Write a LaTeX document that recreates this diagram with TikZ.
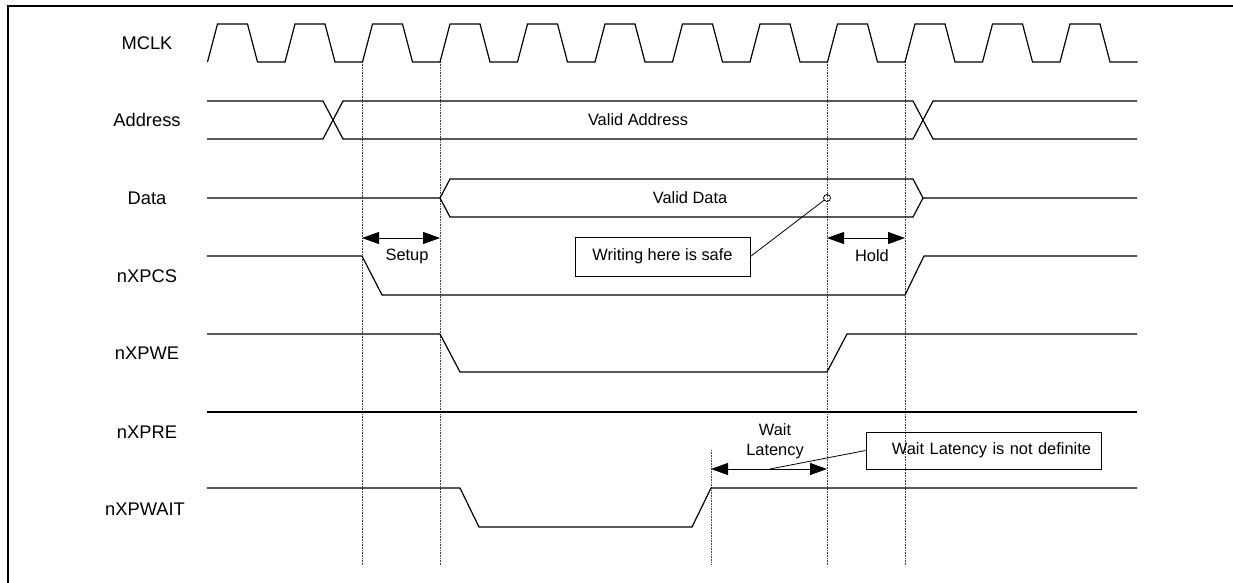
\documentclass[tikz,border=0pt]{standalone}
\usepackage{fontspec}
\setmainfont{Liberation Sans}
\usetikzlibrary{arrows.meta}
\begin{document}
\begin{tikzpicture}[x=1pt,y=-1pt,
  sig/.style={line width=1.2pt, line join=miter},
  guide/.style={line width=0.9pt, black!75, dash pattern=on 0.9pt off 0.7pt},
  lab/.style={font=\fontsize{18.3}{20}\selectfont, inner sep=0pt},
  ann/.style={font=\fontsize{16.4}{20}\selectfont, inner sep=0pt, align=center},
  dimarrow/.style={line width=1pt, {Triangle[length=17pt,width=12pt]}-{Triangle[length=17pt,width=12pt]}},
  callout/.style={draw, line width=0.9pt, font=\fontsize{16.4}{20}\selectfont, inner sep=0pt},
  leader/.style={line width=0.8pt}]
\useasboundingbox (0,0) rectangle (1233,583);

% frame
\draw[line width=2.6pt, line join=miter] (8,595) -- (8,6) -- (1245,6);

% guide lines
\foreach \n/\x in {ga/362, gb/440, gc/827, gd/905} {
  \coordinate (\n t) at (\x,62);
  \coordinate (\n b) at (\x,565);
  \draw[guide] (\n t) -- (\n b);
}
\coordinate (get) at (711,450);
\coordinate (geb) at (711,565);
\draw[guide] (get) -- (geb);

% signal labels
\node[lab] (lmclk) at (147,43) {MCLK};
\node[lab] (laddr) at (147,120) {Address};
\node[lab] (ldata) at (147,198) {Data};
\node[lab] (lcs)   at (147,276) {nXPCS};
\node[lab] (lwe)   at (147,353) {nXPWE};
\node[lab] (lre)   at (147,432) {nXPRE};
\node[lab] (lwait) at (145,509) {nXPWAIT};

% MCLK
\draw[sig] (207.5,62) \foreach \k in {0,...,11} { -- ++(10,-38) -- ++(30,0) -- ++(10,38) -- ++(27.5,0) };

% Address
\draw[sig] (207,101) -- (323,101) -- (343,139) -- (913,139) -- (933,101) -- (1137,101);
\draw[sig] (207,139) -- (323,139) -- (343,101) -- (913,101) -- (933,139) -- (1137,139);
\node[ann] (vaddr) at (638,120) {Valid Address};

% Data
\draw[sig] (207,198) -- (440,198) -- (450,179) -- (913,179) -- (923,198) -- (1137,198);
\draw[sig] (440,198) -- (450,217) -- (913,217) -- (923,198);
\node[ann] (vdata) at (690,198) {Valid Data};

% nXPCS
\draw[sig] (207,256) -- (362,256) -- (382,295) -- (905,295) -- (924,256) -- (1137,256);
% nXPWE
\draw[sig] (207,334) -- (440,334) -- (460,372) -- (827,372) -- (847,334) -- (1137,334);
% nXPRE
\draw[sig] (207,412) -- (1137,412);
% nXPWAIT
\draw[sig] (207,488) -- (460,488) -- (479,527) -- (692,527) -- (711,488) -- (1137,488);

% Setup / Hold
\coordinate (su1) at (362,238);
\coordinate (su2) at (440,238);
\draw[dimarrow] (su1) -- (su2);
\node[ann] (tsetup) at (407,256) {Setup};
\coordinate (ho1) at (827,238);
\coordinate (ho2) at (905,238);
\draw[dimarrow] (ho1) -- (ho2);
\node[ann] (thold) at (872,256) {Hold};

% Wait latency
\coordinate (wl1) at (711,469);
\coordinate (wl2) at (827,469);
\draw[dimarrow] (wl1) -- (wl2);
\node[ann] (twait) at (775,441) {Wait\\Latency};

% callouts
\node[callout, minimum width=175pt, minimum height=39pt] (safe) at (662.5,256.5) {Writing here is safe};
\node[draw, circle, minimum size=7pt, inner sep=0pt, line width=0.8pt] (safept) at (827,198) {};
\draw[leader] (safe.east) -- (safept);

\node[callout, minimum width=235pt, minimum height=37pt, text width=215pt, align=right] (waitbox) at (983.5,450.5) {Wait Latency is not definite};
\coordinate (wl) at (770,469);
\draw[leader] (waitbox.west) -- (wl);
\end{tikzpicture}
\end{document}
